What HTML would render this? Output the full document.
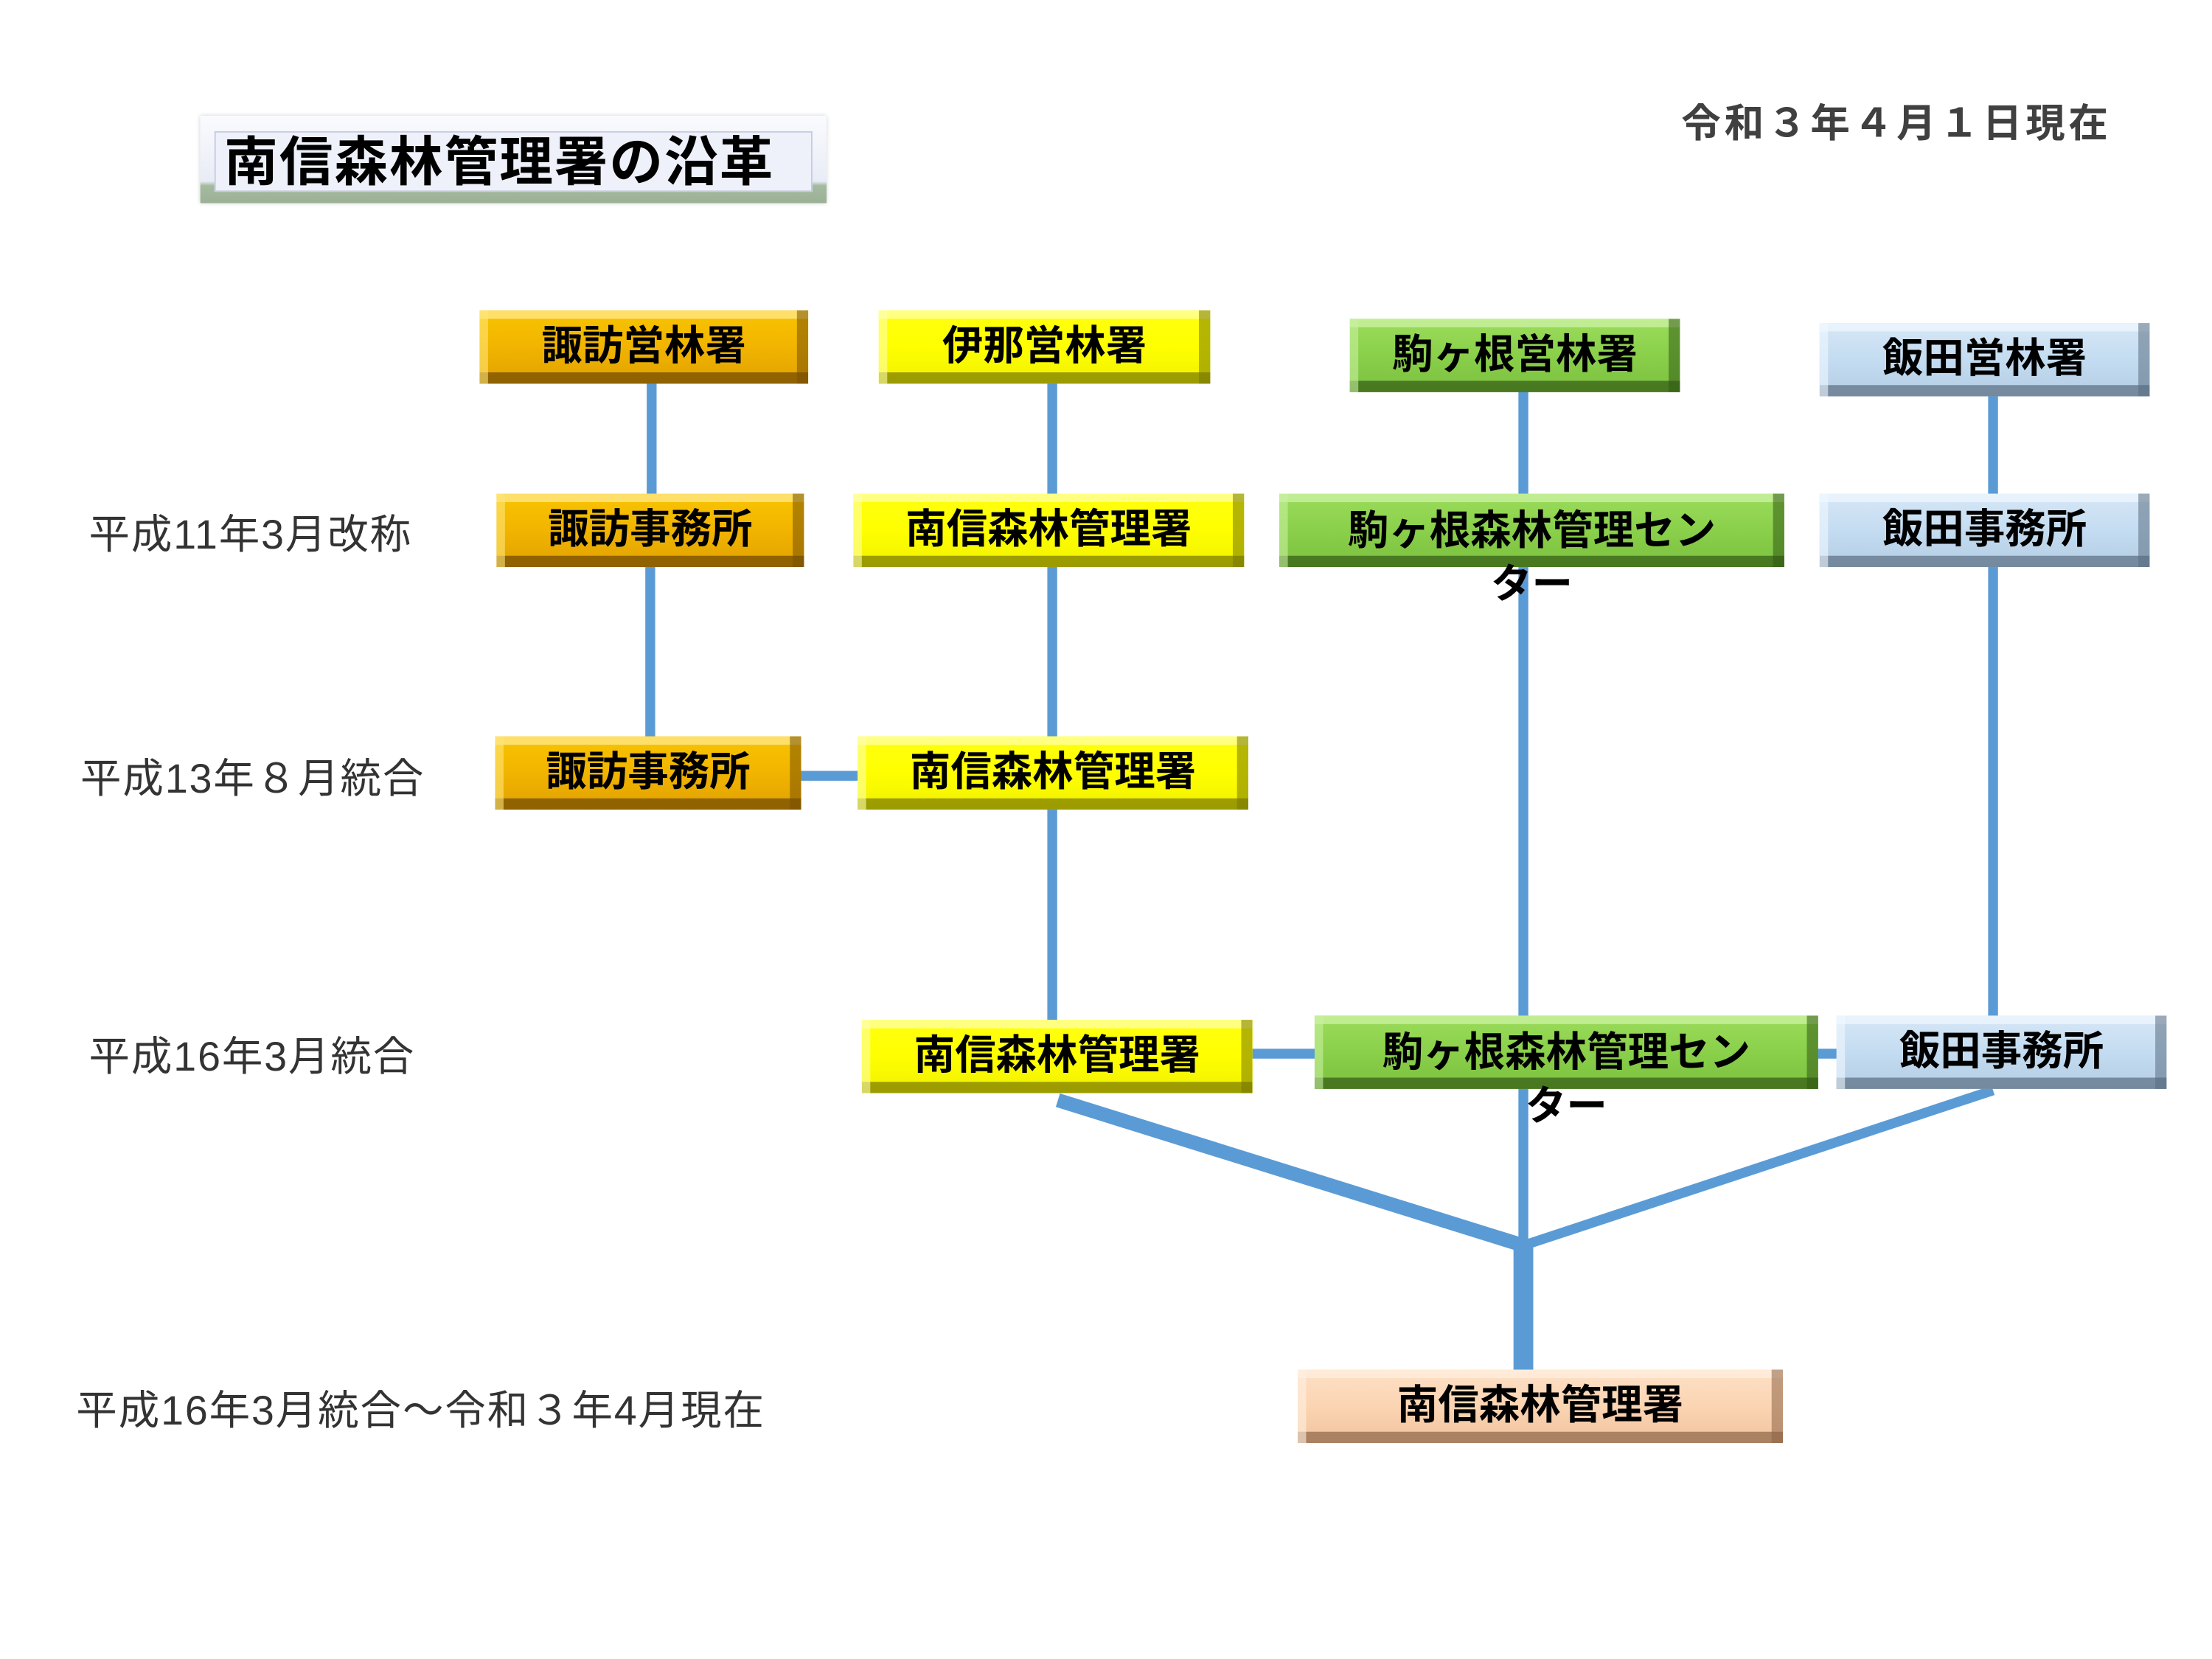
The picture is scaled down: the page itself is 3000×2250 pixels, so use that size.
<!DOCTYPE html>
<html><head><meta charset="utf-8"><style>
html,body{margin:0;padding:0;background:#fff;width:3000px;height:2250px;overflow:hidden}
#w{position:absolute;left:0;top:0;width:1552px;height:1164px;transform:scale(1.913);transform-origin:0 0;font-family:"Liberation Sans","Noto Sans CJK JP",sans-serif}
.b{position:absolute;box-sizing:border-box;text-align:center;font-weight:bold;font-size:29px;color:#000;line-height:52px;height:52px}
.b span{position:relative;z-index:2}
.o{background:linear-gradient(#f8c400,#f2b400 50%,#e0a200);box-shadow:inset 6px 0 0 rgba(255,230,120,.6),inset -8px 0 0 rgba(120,80,0,.55),inset 0 6px 0 rgba(255,235,150,.7),inset 0 -8px 0 rgba(110,70,0,.7)}
.y{background:linear-gradient(#ffff10,#ffff00 50%,#f0f000);box-shadow:inset 6px 0 0 rgba(255,255,170,.6),inset -8px 0 0 rgba(120,120,0,.55),inset 0 6px 0 rgba(255,255,180,.7),inset 0 -8px 0 rgba(120,120,0,.7)}
.g{background:linear-gradient(#9bdc5c,#8ad04a 50%,#7cc040);box-shadow:inset 6px 0 0 rgba(200,240,160,.6),inset -8px 0 0 rgba(50,90,20,.55),inset 0 6px 0 rgba(210,245,170,.7),inset 0 -8px 0 rgba(50,90,20,.7)}
.l{background:linear-gradient(#d6e7f6,#c4dcf1 50%,#b4cde3);box-shadow:inset 6px 0 0 rgba(240,248,255,.6),inset -8px 0 0 rgba(90,110,130,.55),inset 0 6px 0 rgba(240,248,255,.7),inset 0 -8px 0 rgba(90,110,130,.7)}
.p{background:linear-gradient(#fde0c6,#fbd4b2 50%,#f0c4a0);box-shadow:inset 6px 0 0 rgba(255,240,225,.6),inset -8px 0 0 rgba(140,100,70,.55),inset 0 6px 0 rgba(255,240,225,.7),inset 0 -8px 0 rgba(140,100,70,.7)}
.t{position:absolute;font-size:29px;color:#333;white-space:nowrap;letter-spacing:1px}
</style></head><body><div id="w">
<svg width="1552" height="1164" style="position:absolute;left:0;top:0" stroke="#5b9bd5" fill="none">
<g stroke-width="7">
<line x1="462" y1="268" x2="462" y2="352"/><line x1="461" y1="400" x2="461" y2="524"/>
<line x1="746" y1="268" x2="746" y2="352"/><line x1="746" y1="400" x2="746" y2="725"/>
<line x1="1080" y1="275" x2="1080" y2="352"/><line x1="1080" y1="400" x2="1080" y2="885"/>
<line x1="1413" y1="279" x2="1413" y2="352"/><line x1="1413" y1="400" x2="1413" y2="722"/>
<line x1="566" y1="550" x2="610" y2="550"/>
<line x1="886" y1="747" x2="934" y2="747"/><line x1="1287" y1="747" x2="1304" y2="747"/>
<line x1="1413" y1="773" x2="1080" y2="883"/>
</g>
<line x1="750" y1="780" x2="1080" y2="883" stroke-width="10"/>
<line x1="1080" y1="880" x2="1080" y2="973" stroke-width="14"/>
</svg>
<div style="position:absolute;left:142px;top:82px;width:444px;height:62px;background:linear-gradient(#fafbfe,#e8ecf6 75%,#a5bba0 80%,#9bb095);box-shadow:0 0 3px #ccc"></div>
<div style="position:absolute;left:152px;top:93px;width:424px;height:43px;border:1px solid #c8cce0;box-sizing:border-box;background:#eef1fa;font-weight:bold;font-size:38px;line-height:45px;padding-left:6px;letter-spacing:1px">南信森林管理署の沿革</div>
<div class="t" style="left:1192px;top:66px;font-weight:bold;font-size:28px;color:#404040;letter-spacing:2.5px">令和３年４月１日現在</div>
<div class="b o" style="left:340px;top:220px;width:233px"><span>諏訪営林署</span></div>
<div class="b y" style="left:623px;top:220px;width:235px"><span>伊那営林署</span></div>
<div class="b g" style="left:957px;top:226px;width:234px"><span>駒ヶ根営林署</span></div>
<div class="b l" style="left:1290px;top:229px;width:234px"><span>飯田営林署</span></div>
<div class="b o" style="left:352px;top:350px;width:218px"><span>諏訪事務所</span></div>
<div class="b y" style="left:605px;top:350px;width:277px"><span>南信森林管理署</span></div>
<div class="b g" style="left:907px;top:350px;width:358px;overflow:visible;line-height:38px;padding-top:8px"><span>駒ヶ根森林管理セン<br>ター</span></div>
<div class="b l" style="left:1290px;top:350px;width:234px"><span>飯田事務所</span></div>
<div class="b o" style="left:351px;top:522px;width:217px"><span>諏訪事務所</span></div>
<div class="b y" style="left:608px;top:522px;width:277px"><span>南信森林管理署</span></div>
<div class="b y" style="left:611px;top:723px;width:277px"><span>南信森林管理署</span></div>
<div class="b g" style="left:932px;top:720px;width:357px;overflow:visible;line-height:38px;padding-top:8px"><span>駒ヶ根森林管理セン<br>ター</span></div>
<div class="b l" style="left:1302px;top:720px;width:234px"><span>飯田事務所</span></div>
<div class="b p" style="left:920px;top:971px;width:344px"><span>南信森林管理署</span></div>
<div class="t" style="left:63px;top:356px">平成11年3月改称</div>
<div class="t" style="left:57px;top:529px">平成13年８月統合</div>
<div class="t" style="left:63px;top:726px">平成16年3月統合</div>
<div class="t" style="left:54px;top:977px">平成16年3月統合～令和３年4月現在</div>
</div></body></html>
